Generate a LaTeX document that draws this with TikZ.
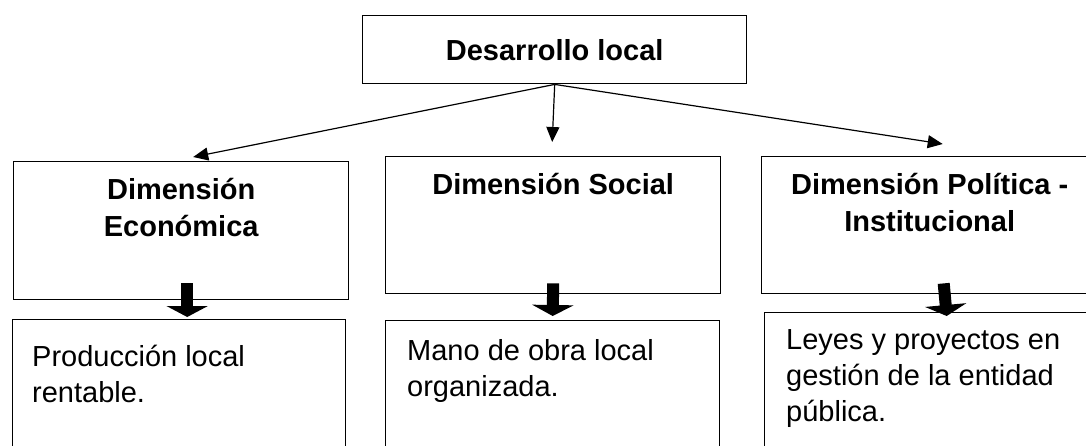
\documentclass[tikz,border=0pt]{standalone}
\usepackage{fontspec}
\setmainfont{Liberation Sans}
\usetikzlibrary{arrows.meta,positioning,calc}

\tikzset{
  every node/.style={font=\fontsize{29}{36}\selectfont},
  box/.style={draw,line width=1.4pt,inner sep=0pt,minimum width=335pt,minimum height=137pt,anchor=north west},
  head/.style={font=\fontsize{29}{37}\selectfont\bfseries,align=center,inner sep=0pt,anchor=north},
  body/.style={align=left,inner sep=0pt,anchor=north west},
  thinarrow/.style={line width=1.2pt,-{Triangle[length=15pt,width=13pt]}},
  bigarrow/.style={line width=12pt,-{Triangle[length=11pt,width=41pt]}}
}

\begin{document}
\begin{tikzpicture}[x=1pt,y=-1pt]
        \useasboundingbox (0,0) rectangle (1086,445);

        % Top box
        \node[box,minimum width=384pt,minimum height=68pt,font=\fontsize{29}{36}\selectfont\bfseries] (top) at (362,15) {Desarrollo local};

        % Dimension boxes
        \node[box,minimum height=138pt] (eco) at (13,161) {};
        \node[box] (soc) at (385,156) {};
        \node[box,minimum width=450pt] (pol) at (761,156) {};
        \node[head] (ecohead) at ([yshift=-17pt]eco.north) {Dimensión\\Económica};
        \node[head] (sochead) at ([yshift=-17pt]soc.north) {Dimensión Social};
        \node[head] (polhead) at ([xshift=-57pt,yshift=-17pt]pol.north) {Dimensión Política -\\Institucional};

        % Result boxes (cut at the bottom)
        \node[box,minimum width=333pt,minimum height=160pt] (ecores) at (12,319) {};
        \node[box,minimum width=334pt,minimum height=160pt] (socres) at (385,320) {};
        \node[box,minimum width=450pt,minimum height=160pt] (polres) at (764,312) {};
        \node[body] (ecotxt) at ([xshift=20pt,yshift=-26pt]ecores.north west) {Producción local\\rentable.};
        \node[body] (soctxt) at ([xshift=22pt,yshift=-19pt]socres.north west) {Mano de obra local\\organizada.};
        \node[body] (poltxt) at ([xshift=22pt,yshift=-17pt]polres.north west) {Leyes y proyectos en\\gestión de la entidad\\pública.};

        % Arrows from the top box
        \draw[thinarrow] (top.south) -- ([xshift=12pt,yshift=4pt]eco.north);
        \draw[thinarrow] (top.south) -- ([xshift=-1pt,yshift=14pt]soc.north);
        \draw[thinarrow] (top.south) -- ([xshift=-44pt,yshift=12pt]pol.north);

        % Block arrows
        \draw[bigarrow] ([xshift=6pt,yshift=17pt]eco.south) -- ([xshift=8pt,yshift=2pt]ecores.north);
        \draw[bigarrow] ([xshift=0pt,yshift=11pt]soc.south) -- ([xshift=0pt,yshift=4pt]socres.north);
        \draw[bigarrow] ([xshift=-43pt,yshift=11pt]pol.south) -- ([xshift=-43pt,yshift=-4pt]polres.north);
\end{tikzpicture}
\end{document}
